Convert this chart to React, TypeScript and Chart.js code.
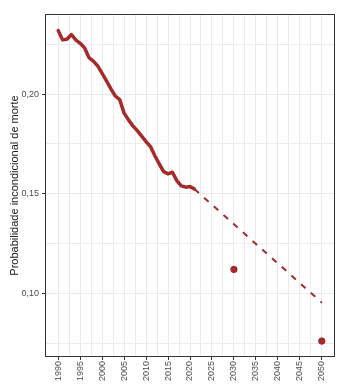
import React, { useEffect, useRef } from "react";
import { Chart, registerables } from "chart.js";

Chart.register(...registerables);

const histYears = [1990, 1991, 1992, 1993, 1994, 1995, 1996, 1997, 1998, 1999, 2000, 2001, 2002, 2003, 2004, 2005, 2006, 2007, 2008, 2009, 2010, 2011, 2012, 2013, 2014, 2015, 2016, 2017, 2018, 2019, 2020, 2021];
const histValues = [0.232, 0.2273, 0.2276, 0.230, 0.2273, 0.2256, 0.2233, 0.2184, 0.2166, 0.2142, 0.2105, 0.2067, 0.2027, 0.1991, 0.1973, 0.1905, 0.1871, 0.1841, 0.1817, 0.179, 0.1762, 0.1737, 0.1691, 0.165, 0.1611, 0.160, 0.1608, 0.1566, 0.154, 0.1533, 0.1536, 0.1524];
const projYears = [2021, 2050];
const projValues = [0.1524, 0.0953];
const targetYears = [2030, 2050];
const targetValues = [0.112, 0.076];
const xTickLabels = [1990, 1995, 2000, 2005, 2010, 2015, 2020, 2025, 2030, 2035, 2040, 2045, 2050];
const yTickLabels = [0.10, 0.15, 0.20];

const COLOR = "#A52A2A";
const FONT = "'Liberation Sans', Arial, sans-serif";

const borderPlugin = {
  id: "panelBorder",
  afterDraw(chart: any) {
    const { ctx, chartArea } = chart;
    ctx.save();
    ctx.strokeStyle = "#333333";
    ctx.lineWidth = 1;
    ctx.strokeRect(Math.round(chartArea.left) + 0.5, Math.round(chartArea.top) + 0.5, Math.round(chartArea.right - chartArea.left) - 1, Math.round(chartArea.bottom - chartArea.top) - 1);
    ctx.restore();
  },
};

export default function App() {
  const ref = useRef<HTMLCanvasElement>(null);
  useEffect(() => {
    if (!ref.current) return;
    const isMajorX = (v: number) => xTickLabels.includes(v);
    const isMajorY = (v: number) => yTickLabels.some((t) => Math.abs(t - v) < 1e-9);
    const chart = new Chart(ref.current, {
      type: "line",
      data: {
        datasets: [
          {
            data: histYears.map((y, i) => ({ x: y, y: histValues[i] })),
            borderColor: COLOR,
            borderWidth: 3.5,
            pointRadius: 0,
            borderJoinStyle: "round",
            borderCapStyle: "round",
            tension: 0,
          },
          {
            data: projYears.map((y, i) => ({ x: y, y: projValues[i] })),
            borderColor: COLOR,
            borderWidth: 2,
            borderDash: [6, 7],
            pointRadius: 0,
          },
          {
            data: targetYears.map((y, i) => ({ x: y, y: targetValues[i] })),
            showLine: false,
            pointRadius: 3.2,
            pointBackgroundColor: COLOR,
            pointBorderColor: COLOR,
            borderColor: COLOR,
          },
        ],
      },
      options: {
        animation: false,
        responsive: true,
        maintainAspectRatio: false,
        layout: { padding: { top: 14, right: 12, left: 0, bottom: 0 } },
        plugins: { legend: { display: false }, tooltip: { enabled: false } },
        scales: {
          x: {
            type: "linear",
            min: 1987,
            max: 2053,
            afterBuildTicks: (axis: any) => {
              const t = [];
              for (let v = 1990; v <= 2050; v += 2.5) t.push({ value: v });
              axis.ticks = t;
            },
            afterFit: (axis: any) => {
              axis.height = 31;
            },
            grid: {
              color: "#EBEBEB",
              lineWidth: 1,
              tickLength: 3,
              tickColor: (c: any) => (c.tick && isMajorX(c.tick.value) ? "#333333" : "rgba(0,0,0,0)"),
            },
            border: { display: false },
            ticks: {
              autoSkip: false,
              minRotation: 90,
              maxRotation: 90,
              padding: 1,
              color: "#4D4D4D",
              font: { family: FONT, size: 9 },
              callback: (v: any) => (isMajorX(Number(v)) ? String(v) : ""),
            },
          },
          y: {
            type: "linear",
            min: 0.068,
            max: 0.2403,
            afterBuildTicks: (axis: any) => {
              axis.ticks = [0.075, 0.1, 0.125, 0.15, 0.175, 0.2, 0.225].map((v) => ({ value: v }));
            },
            afterFit: (axis: any) => {
              axis.width = 45;
            },
            grid: {
              color: "#EBEBEB",
              lineWidth: 1,
              tickLength: 3,
              tickColor: (c: any) => (c.tick && isMajorY(c.tick.value) ? "#333333" : "rgba(0,0,0,0)"),
            },
            border: { display: false },
            title: {
              display: true,
              text: "Probabilidade incondicional de morte",
              color: "#1A1A1A",
              font: { family: FONT, size: 11 },
              padding: { top: 8.4, bottom: 0 },
            },
            ticks: {
              autoSkip: false,
              padding: 3,
              color: "#4D4D4D",
              font: { family: FONT, size: 9 },
              callback: (v: any) => (isMajorY(Number(v)) ? Number(v).toFixed(2).replace(".", ",") : ""),
            },
          },
        },
      },
      plugins: [borderPlugin],
    } as any);
    return () => chart.destroy();
  }, []);
  return (
    <div style={{ position: "fixed", left: 0, top: 0, width: 347, height: 388, background: "#fff" }}>
      <canvas ref={ref} />
    </div>
  );
}
